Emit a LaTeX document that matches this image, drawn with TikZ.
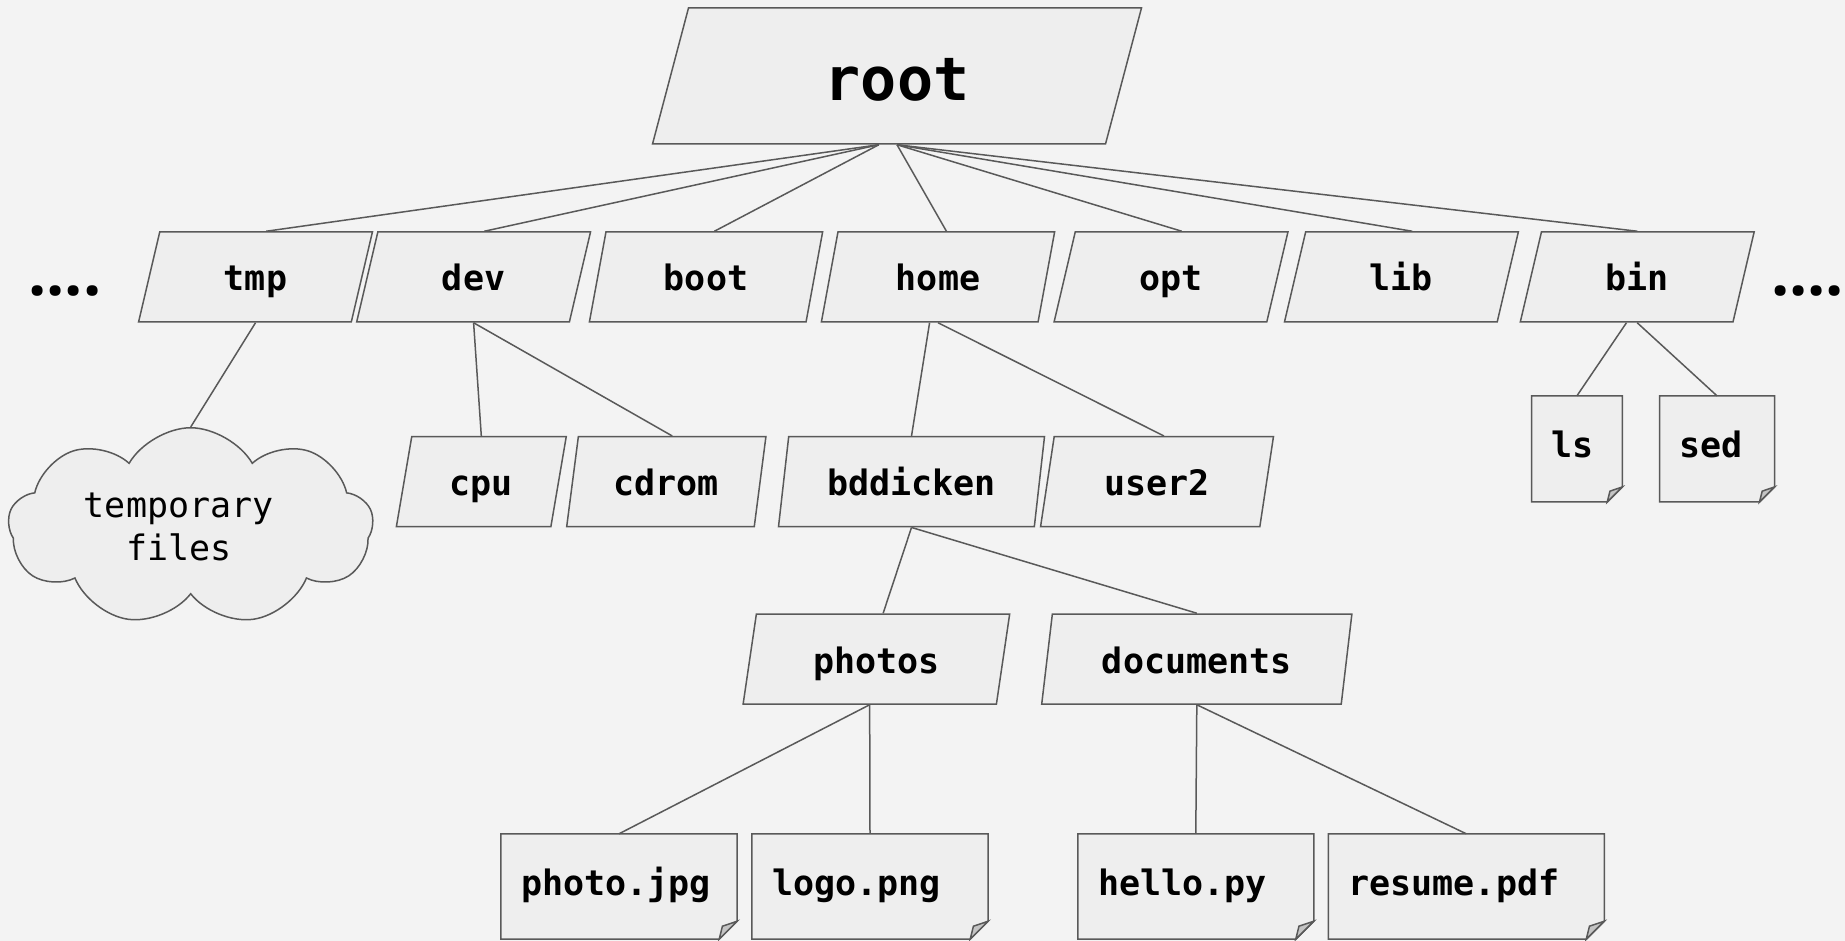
\documentclass[tikz,border=0pt]{standalone}
\usepackage{fontspec}
\setmonofont{DejaVu Sans Mono}
\newfontfamily\dotsfont{Open Sans}
\usetikzlibrary{shapes.geometric,shapes.symbols}
\definecolor{bgc}{HTML}{F3F3F3}
\definecolor{nodefill}{HTML}{EEEEEE}
\definecolor{linec}{HTML}{595959}
\definecolor{foldc}{HTML}{C4C4C4}
\pgfdeclarelayer{bg}
\pgfdeclarelayer{mid}
\pgfsetlayers{bg,mid,main}
\begin{document}
\begin{tikzpicture}[x=1pt,y=-1pt,
  conn/.style={draw=linec, line width=1.5pt},
  dirbox/.style={trapezium, trapezium left angle=76, trapezium right angle=104,
    trapezium stretches=true, draw=linec, fill=nodefill, line width=1.5pt,
    inner sep=0pt, minimum height=90, minimum width=235,
    text height=28, text depth=0,
    font=\ttfamily\bfseries\fontsize{35}{42}\selectfont},
  filebox/.style={rectangle, inner xsep=20, inner ysep=0, align=left,
    text height=26, text depth=8, minimum height=105,
    font=\ttfamily\bfseries\fontsize{35}{42}\selectfont},
  dots/.style={anchor=base, font=\dotsfont\bfseries\fontsize{64}{70}\selectfont},
  foldline/.style={draw=linec, line width=1.5pt, line join=miter}
]
\useasboundingbox (0,0) rectangle (1845,941);
\begin{pgfonlayer}{bg}
\fill[bgc] (0,0) rectangle (1845,941);
\end{pgfonlayer}

% root
\node[dirbox, minimum width=490, minimum height=136, text height=50, text depth=0,
  font=\ttfamily\bfseries\fontsize{60}{72}\selectfont] (root) at (897,76) {root};

% second row
\node[dirbox] (tmp)  at (255.5,277) {tmp};
\node[dirbox] (dev)  at (473.6,277) {dev};
\node[dirbox] (boot) at (706,277) {boot};
\node[dirbox] (home) at (938,277) {home};
\node[dirbox] (opt)  at (1171,277) {opt};
\node[dirbox] (lib)  at (1401.4,277) {lib};
\node[dirbox] (bin)  at (1637.2,277) {bin};

\node[dots] (dotsl) at (65,296) {....};
\node[dots] (dotsr) at (1807.5,296) {....};

% cloud
\node[cloud, cloud puffs=9, cloud puff arc=120, aspect=2.06, draw=linec,
  fill=nodefill, line width=1.5pt, minimum width=365, minimum height=177,
  inner sep=0pt, align=center,
  font=\ttfamily\fontsize{35}{43}\selectfont] (cloud) at (190.7,526.5)
  {temporary\hspace*{24pt}\\files\hspace*{24pt}};

% third row
\node[dirbox, minimum width=170.7] (cpu)   at (481.3,481.7) {cpu};
\node[dirbox, minimum width=199.3] (cdrom) at (666.3,481.7) {cdrom};
\node[dirbox, minimum width=266]   (bdd)   at (911.5,481.7) {bddicken};
\node[dirbox, minimum width=233]   (user2) at (1157,481.7) {user2};

% fourth row
\node[dirbox, minimum width=267]   (photos) at (876.4,659) {photos};
\node[dirbox, minimum width=311]   (docs)   at (1196.8,659) {documents};

% files
\node[filebox, text width=196]   (photo)  at (619,886.5) {photo.jpg};
\node[filebox, text width=196]   (logo)   at (870,886.5) {logo.png};
\node[filebox, text width=195.5] (hello)  at (1195.8,886.5) {hello.py};
\node[filebox, text width=235.5] (resume) at (1466.3,886.5) {resume.pdf};
\node[filebox, text width=50.3, minimum height=105.7]  (ls)  at (1576.9,448.9) {ls};
\node[filebox, text width=74.6, minimum height=105.7]  (sed) at (1717,448.9) {sed};

\begin{pgfonlayer}{mid}
\foreach \n/\c/\dx/\dy in {photo/18/14.8/13, logo/18/14.8/13, hello/18/14.8/13,
    resume/18/14.8/13, ls/15/12.3/10.8, sed/15/12.3/10.8} {
  \filldraw[foldline, fill=nodefill] (\n.north west) -- (\n.north east)
    -- ([yshift=\c pt]\n.south east) -- ([xshift=-\c pt]\n.south east)
    -- (\n.south west) -- cycle;
  \filldraw[foldline, fill=foldc] ([yshift=\c pt]\n.south east)
    -- ([xshift=-\c pt]\n.south east)
    -- ([xshift=-\dx pt, yshift=\dy pt]\n.south east) -- cycle;
}
\end{pgfonlayer}

% connectors
\draw[conn] (root.bottom side) -- (tmp.top side);
\draw[conn] (root.bottom side) -- (dev.top side);
\draw[conn] (root.bottom side) -- (boot.top side);
\draw[conn] (root.south) -- (home.top side);
\draw[conn] (root.south) -- (opt.top side);
\draw[conn] (root.south) -- (lib.top side);
\draw[conn] (root.south) -- (bin.north);
\draw[conn] (tmp.south) -- (cloud.north);
\draw[conn] (dev.south) -- (cpu.north);
\draw[conn] (dev.south) -- (cdrom.top side);
\draw[conn] (home.bottom side) -- (bdd.north);
\draw[conn] (home.south) -- (user2.top side);
\draw[conn] (bdd.south) -- (photos.top side);
\draw[conn] (bdd.south) -- (docs.north);
\draw[conn] (photos.bottom side) -- (photo.north);
\draw[conn] (photos.bottom side) -- (logo.north);
\draw[conn] (docs.south) -- (hello.north);
\draw[conn] (docs.south) -- (resume.north);
\draw[conn] (bin.bottom side) -- (ls.north);
\draw[conn] (bin.south) -- (sed.north);
\end{tikzpicture}
\end{document}
